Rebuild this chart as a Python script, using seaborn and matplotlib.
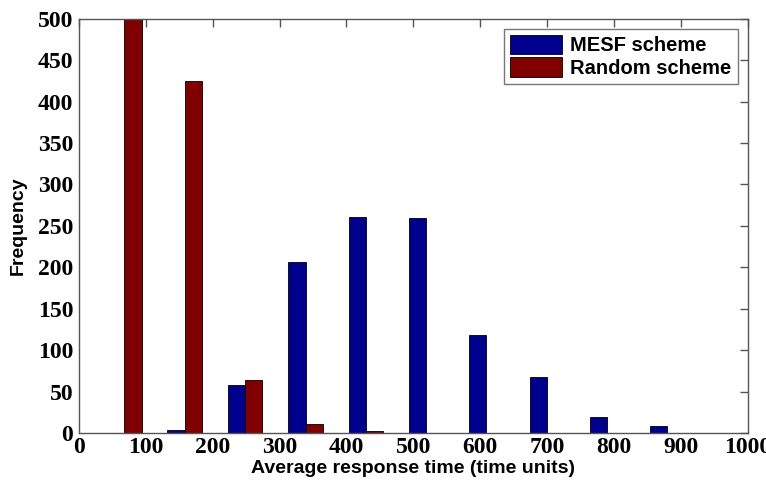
import pandas as pd
import matplotlib
matplotlib.use("Agg")
import matplotlib.pyplot as plt
import seaborn as sns

# Histogram bin centres and counts
bin_centers = [68, 158, 248, 339, 429, 519, 609, 700, 790, 880]
mesf_counts = [0, 4, 58, 207, 261, 259, 118, 68, 19, 8]
random_counts = [500, 425, 64, 11, 2, 0, 0, 0, 0, 0]
series_names = ["MESF scheme", "Random scheme"]
colors = ["#00008F", "#800000"]

x_ticks = list(range(0, 1001, 100))
y_ticks = list(range(0, 501, 50))


def create_chart():
    df = pd.DataFrame({
        "center": bin_centers * 2,
        "count": mesf_counts + random_counts,
        "scheme": [series_names[0]] * len(bin_centers) + [series_names[1]] * len(bin_centers),
    })

    sns.set_theme(style="white")
    plt.rcParams["font.family"] = ["Liberation Sans", "DejaVu Sans"]
    plt.rcParams["text.color"] = "black"
    plt.rcParams["axes.labelcolor"] = "black"
    plt.rcParams["xtick.labelcolor"] = "black"
    plt.rcParams["ytick.labelcolor"] = "black"

    fig = plt.figure(figsize=(7.66, 4.82), dpi=100)
    ax = fig.add_axes([0.103, 0.1017, 0.873, 0.8593])

    sns.barplot(data=df, x="center", y="count", hue="scheme", native_scale=True,
                palette=colors, width=0.571, edgecolor="black", linewidth=0.6,
                saturation=1, ax=ax)

    ax.set_xlim(0, 1000)
    ax.set_ylim(0, 500)
    ax.set_xticks(x_ticks)
    ax.set_yticks(y_ticks)
    ax.set_xticklabels([str(t) for t in x_ticks], fontfamily="Liberation Serif",
                       fontweight="bold", fontsize=17, color="black")
    ax.set_yticklabels([str(t) for t in y_ticks], fontfamily="Liberation Serif",
                       fontweight="bold", fontsize=17, color="black")
    ax.tick_params(direction="in", length=6, width=1, color="#555555",
                   top=True, right=True, pad=4)
    ax.tick_params(axis="x", pad=3)
    for s in ax.spines.values():
        s.set_color("#555555")
        s.set_linewidth(1)

    ax.set_xlabel("Average response time (time units)", fontsize=14,
                  fontweight="bold", labelpad=1, color="black")
    ax.set_ylabel("Frequency", fontsize=14, fontweight="bold", labelpad=8,
                  color="black")

    leg = ax.legend(loc="upper right", fontsize=14.5, frameon=True, fancybox=False,
                    edgecolor="#555555", handlelength=2.6, handleheight=1.1,
                    borderaxespad=0.5, labelspacing=0.1, handletextpad=0.4,
                    borderpad=0.3)
    for t in leg.get_texts():
        t.set_fontweight("bold")
        t.set_color("black")
    leg.get_frame().set_linewidth(1)

    fig.savefig("out.png", dpi=100)
    plt.close(fig)


if __name__ == "__main__":
    create_chart()
